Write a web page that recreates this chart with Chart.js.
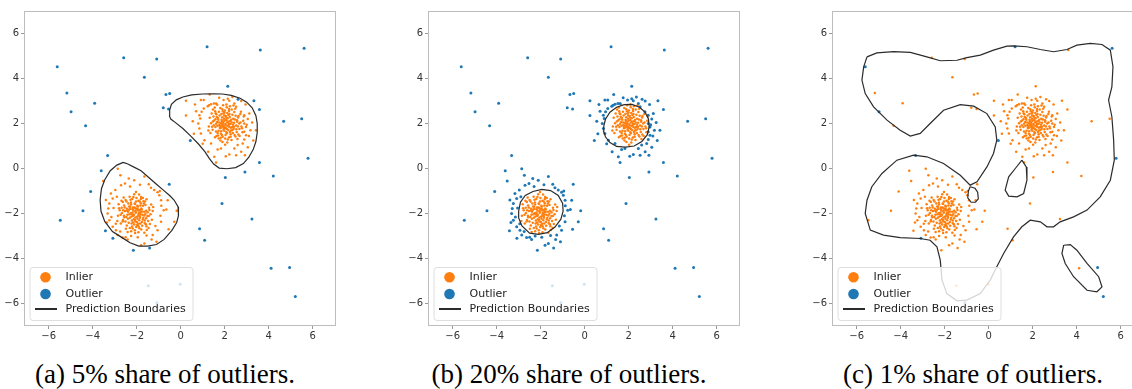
<!DOCTYPE html>
<html lang="en">
<head>
<meta charset="UTF-8">
<title>Prediction boundaries and outliers</title>
<style>
  html, body { margin: 0; padding: 0; background: #fff; overflow: hidden; }
  body { width: 1132px; height: 389px; position: relative; }
  .panel { position: absolute; top: 0; width: 404px; height: 345px; }
  .caption {
    position: absolute; top: 361px; width: 404px; text-align: center; white-space: nowrap;
    font-family: "Liberation Serif", serif; font-size: 27px; line-height: 27px; color: #000;
  }
</style>
</head>
<body>

<div class="panel" style="left:0px"><canvas id="chartA" width="404" height="345"></canvas></div>
<div class="panel" style="left:404px"><canvas id="chartB" width="404" height="345"></canvas></div>
<div class="panel" style="left:808px"><canvas id="chartC" width="404" height="345"></canvas></div>

<div class="caption" style="left:-37px">(a) 5% share of outliers.</div>
<div class="caption" style="left:367px">(b) 20% share of outliers.</div>
<div class="caption" style="left:771px">(c) 1% share of outliers.</div>

<script src="https://cdn.jsdelivr.net/npm/chart.js"></script>
<script>
// axis limits and tick positions (same for every panel)
const xRange = [-7.12, 7.06];
const yRange = [-7, 7];
const xTicks = [-6, -4, -2, 0, 2, 4, 6];
const yTicks = [-6, -4, -2, 0, 2, 4, 6];

// dense part of the cluster around (2, 2)
const upperCore = [
  [2.03,1.98],[1.87,2.11],[2.21,1.84],[1.95,1.72],[2.14,2.23],[1.76,1.93],[2.32,2.05],[2.08,1.61],[1.69,2.24],[2.41,1.77],
  [1.98,2.36],[2.27,1.52],[1.58,1.85],[2.12,2.47],[1.83,1.55],[2.46,2.18],[1.62,2.41],[2.35,2.39],[1.91,1.41],[2.55,1.62],
  [1.72,1.68],[2.18,1.93],[1.99,2.12],[2.06,1.79],[1.84,2.02],[2.25,2.11],[1.93,1.88],[2.11,2.04],[1.79,1.79],[2.29,1.69],
  [1.66,2.07],[2.38,1.94],[2.01,2.58],[1.74,2.52],[2.52,1.91],[1.52,2.13],[2.19,1.38],[1.89,2.63],[2.61,2.27],[1.45,1.72],
  [2.44,2.51],[1.57,2.55],[2.67,1.76],[1.63,1.45],[2.31,1.27],[1.81,1.25],[2.72,2.04],[1.38,2.01],[2.09,2.72],[2.49,1.42],
  [1.97,2.21],[2.16,1.71],[1.86,1.82],[2.23,2.29],[1.71,2.17],[2.37,1.58],[2.04,1.49],[1.95,2.44],[2.57,2.08],[1.61,1.99],
  [2.13,1.89],[1.92,1.99],[2.07,2.16],[1.82,1.91],[2.26,1.98],[2.00,1.83],[1.89,2.28],[2.34,1.85],[1.77,2.36],[2.20,2.56],
  [1.68,1.58],[2.43,2.03],[2.02,1.33],[1.49,2.31],[2.62,1.51],[1.35,1.58],[2.76,1.87],[1.93,2.81],[2.48,2.66],[1.55,2.71],
  [2.71,2.42],[1.41,2.45],[2.84,2.12],[2.24,2.77],[1.73,1.33],[2.58,1.31],[1.28,1.87],[2.12,1.16],[1.66,2.83],[2.81,1.61],
  [2.05,2.33],[1.84,1.66],[2.28,1.81],[1.94,2.07],[2.17,2.38],[1.75,2.04],[2.39,2.21],[1.87,1.49],[2.10,1.57],[1.64,2.29],
  [2.53,1.75],[1.98,1.68],[2.32,2.62],[1.51,1.92],[2.66,2.00],[1.80,2.69],[2.45,1.49],[1.70,1.47],[2.22,2.42],[1.58,2.19],
  [2.35,1.71],[1.99,2.49],[2.14,1.29],[1.43,1.86],[2.63,2.33],[1.85,2.42],[2.27,1.41],[1.61,1.64],[2.50,2.34],[2.08,2.85],
  [1.32,2.26],[2.79,1.79],[1.90,1.18],[2.40,2.80],[1.47,2.62],[2.68,1.45],[1.56,1.39],[2.87,2.31],[2.02,1.06],[1.26,1.69],
  [2.15,2.09],[1.90,1.94],[2.04,1.92],[1.97,1.80],[2.20,2.00],[1.86,2.17],[2.11,1.75],[2.30,2.17],[1.78,1.84],[2.06,2.27],
  [2.42,1.86],[1.67,1.90],[2.24,1.62],[1.92,2.55],[2.56,2.15],[1.59,2.46],[2.19,2.65],[1.82,1.37],[2.60,1.87],[1.46,2.09]
];

// sparser points around the (2, 2) cluster
const upperRing = [
  [0.24,3.01],[0.24,2.36],[0.92,3.04],[1.32,3.29],[0.85,2.37],[0.95,2.52],[1.05,2.67],[1.23,2.77],[1.38,2.86],[1.61,2.89],
  [2.14,3.10],[2.21,3.01],[2.44,2.89],[2.52,2.74],[2.74,2.52],[2.89,2.37],[3.12,2.44],[2.89,2.00],[2.97,1.85],[2.89,1.63],
  [2.97,1.48],[2.89,1.29],[2.82,1.11],[2.59,1.04],[2.44,0.89],[2.21,0.62],[2.52,0.59],[2.92,0.59],[3.42,1.70],[3.17,1.70],
  [1.83,0.89],[1.68,0.84],[1.53,0.52],[1.61,0.27],[1.38,1.11],[1.08,1.26],[0.92,1.56],[0.85,1.78],[0.80,2.00],[0.89,2.22],
  [1.29,2.81],[1.51,2.89],[3.05,2.20],[3.00,1.95],[0.70,2.55],[1.05,3.05],[1.75,3.15],[2.35,3.18],[2.95,2.85],[3.25,2.05],
  [3.30,1.25],[3.05,0.95],[2.75,0.75],[2.05,0.55],[1.25,0.75],[1.00,1.10],[0.60,1.55],[0.55,2.10],[3.10,1.45],[2.75,3.00],
  [1.95,3.05],[0.65,2.85]
];

// dense part of the cluster around (-2, -2)
const lowerCore = [
  [-2.04,-1.97],[-1.86,-2.12],[-2.18,-1.81],[-1.95,-1.69],[-2.13,-2.26],[-1.77,-1.92],[-2.33,-2.03],[-2.07,-1.58],[-1.72,-2.27],[-2.44,-1.79],
  [-1.99,-2.38],[-2.26,-1.51],[-1.57,-1.88],[-2.11,-2.49],[-1.81,-1.54],[-2.47,-2.16],[-1.63,-2.43],[-2.36,-2.41],[-1.92,-1.43],[-2.57,-1.64],
  [-1.71,-1.66],[-2.19,-1.95],[-1.98,-2.14],[-2.05,-1.77],[-1.83,-2.03],[-2.24,-2.13],[-1.94,-1.86],[-2.12,-2.06],[-1.79,-1.78],[-2.30,-1.70],
  [-1.65,-2.09],[-2.39,-1.92],[-2.02,-2.60],[-1.75,-2.54],[-2.53,-1.89],[-1.51,-2.11],[-2.20,-1.36],[-1.88,-2.65],[-2.62,-2.29],[-1.44,-1.74],
  [-2.45,-2.53],[-1.56,-2.57],[-2.68,-1.74],[-1.62,-1.47],[-2.32,-1.25],[-1.80,-1.27],[-2.73,-2.06],[-1.37,-2.03],[-2.08,-2.74],[-2.50,-1.40],
  [-1.96,-2.23],[-2.17,-1.73],[-1.85,-1.84],[-2.22,-2.31],[-1.70,-2.19],[-2.38,-1.56],[-2.03,-1.47],[-1.94,-2.46],[-2.58,-2.10],[-1.60,-2.01],
  [-2.14,-1.87],[-1.91,-2.01],[-2.06,-2.18],[-1.81,-1.93],[-2.27,-1.99],[-2.00,-1.81],[-1.88,-2.30],[-2.35,-1.83],[-1.76,-2.38],[-2.21,-2.58],
  [-1.67,-1.56],[-2.42,-2.05],[-2.01,-1.31],[-1.48,-2.33],[-2.63,-1.49],[-1.34,-1.60],[-2.77,-1.85],[-1.92,-2.83],[-2.49,-2.68],[-1.54,-2.73],
  [-2.72,-2.44],[-1.40,-2.47],[-2.85,-2.10],[-2.25,-2.79],[-1.72,-1.31],[-2.59,-1.29],[-1.27,-1.89],[-2.11,-1.14],[-1.65,-2.85],[-2.82,-1.59],
  [-2.06,-2.35],[-1.83,-1.64],[-2.29,-1.79],[-1.93,-2.09],[-2.16,-2.40],[-1.74,-2.06],[-2.40,-2.23],[-1.86,-1.47],[-2.09,-1.55],[-1.63,-2.31],
  [-2.54,-1.73],[-1.97,-1.66],[-2.31,-2.64],[-1.50,-1.94],[-2.67,-1.98],[-1.79,-2.71],[-2.46,-1.47],[-1.69,-1.45],[-2.23,-2.44],[-1.57,-2.21],
  [-2.34,-1.69],[-1.98,-2.51],[-2.15,-1.27],[-1.42,-1.84],[-2.64,-2.35],[-1.84,-2.44],[-2.28,-1.39],[-1.60,-1.62],[-2.51,-2.36],[-2.07,-2.87],
  [-1.31,-2.28],[-2.80,-1.77],[-1.89,-1.16],[-2.41,-2.82],[-1.46,-2.64],[-2.69,-1.43],[-1.55,-1.37],[-2.88,-2.33],[-2.03,-1.04],[-1.25,-1.71],
  [-2.16,-2.11],[-1.89,-1.96],[-2.05,-1.90],[-1.96,-1.78],[-2.21,-2.02],[-1.85,-2.19],[-2.10,-1.73],[-2.31,-2.19],[-1.77,-1.82],[-2.07,-2.29],
  [-2.43,-1.88],[-1.66,-1.92],[-2.25,-1.60],[-1.91,-2.57],[-2.57,-2.17],[-1.58,-2.48],[-2.18,-2.67],[-1.81,-1.35],[-2.61,-1.85],[-1.45,-2.11]
];

// sparser points around the (-2, -2) cluster
const lowerRing = [
  [-2.86,-0.01],[-2.74,-0.30],[-2.36,-0.44],[-3.52,-0.56],[-1.65,-0.35],[-0.95,-1.00],[-2.97,-0.96],[-3.17,-1.11],[-3.09,-1.33],[-3.24,-1.56],
  [-3.29,-1.78],[-3.32,-2.00],[-3.24,-2.30],[-3.09,-2.59],[-2.94,-2.74],[-2.86,-2.96],[-2.64,-3.07],[-2.41,-3.16],[-1.80,-3.41],[-1.65,-3.33],
  [-1.32,-3.16],[-1.27,-2.96],[-1.05,-2.74],[-0.89,-2.37],[-0.77,-1.85],[-0.65,-1.82],[-0.18,-1.88],[-0.29,-2.37],[-0.59,-1.41],[-0.89,-1.41],
  [-0.97,-1.19],[-1.20,-0.96],[-1.35,-0.86],[-2.71,-0.74],[-2.53,-0.67],[-2.11,-0.52],[-3.05,-1.75],[-3.15,-2.15],[-2.95,-2.45],[-2.75,-2.80],
  [-2.25,-3.00],[-1.95,-3.05],[-1.55,-2.98],[-1.15,-2.55],[-0.92,-2.10],[-0.88,-1.65],[-1.05,-1.05],[-1.45,-0.70],[-1.85,-0.72],[-2.30,-0.80],
  [-2.90,-1.25],[-3.40,-1.40],[-3.35,-2.40],[-2.50,-3.05],[-1.10,-3.25],[-0.55,-2.70]
];

// scattered points that fall inside the 1% boundary
const spreadInside = [
  [-5.17,3.36],[-3.91,2.90],[-4.32,1.90],[-2.59,4.92],[-1.65,4.06],[-1.09,4.87],[3.62,5.27],[-0.67,3.29],[-0.50,3.33],[-0.79,2.70],
  [-0.55,2.65],[2.14,3.66],[2.61,3.08],[3.33,3.01],[3.58,2.62],[4.68,2.10],[5.50,2.21],[3.58,0.27],[2.92,-0.16],[2.03,-0.40],
  [4.21,-0.33],[-3.61,-0.10],[-4.09,-1.02],[-4.44,-1.88],[-5.47,-2.30],[-0.52,-0.70],[1.88,-1.56],[3.24,-2.24],[0.86,-2.68],[1.09,-3.19],
  [-3.42,-2.77],[-2.15,-3.63],[-1.41,-3.53],[4.11,-4.43],[-1.47,-5.21],[-0.02,-5.14]
];

// scattered points that stay outside even the 1% boundary
const spreadEdge = [
  [-5.61,4.52],[-4.98,2.52],[1.20,5.41],[5.61,5.35],[5.79,0.46],[0.44,1.24],[-3.32,0.58],[-3.08,-3.10],[4.95,-4.40],[5.21,-5.69],
  [-1.08,-5.97]
];

// prediction boundaries, 5% share
const boundaryA1 = [
  [-0.52,2.35],[-0.50,2.60],[-0.42,2.85],[-0.20,3.05],[0.10,3.18],[0.50,3.27],[1.00,3.31],[1.50,3.32],[1.90,3.31],[2.30,3.25],
  [2.70,3.12],[3.00,2.95],[3.25,2.70],[3.42,2.35],[3.48,2.00],[3.48,1.60],[3.42,1.20],[3.30,0.85],[3.10,0.50],[2.85,0.22],
  [2.50,0.04],[2.10,-0.01],[1.75,0.02],[1.50,0.20],[1.30,0.45],[1.10,0.75],[0.80,1.10],[0.45,1.45],[0.10,1.78],[-0.25,2.05],
  [-0.45,2.20],[-0.52,2.35]
];
const boundaryA2 = [
  [-2.61,0.27],[-2.40,0.20],[-2.10,0.05],[-1.80,-0.10],[-1.45,-0.40],[-1.10,-0.70],[-0.80,-0.95],[-0.50,-1.20],[-0.30,-1.40],[-0.12,-1.70],
  [-0.10,-2.10],[-0.18,-2.40],[-0.40,-2.75],[-0.75,-3.15],[-1.10,-3.38],[-1.50,-3.45],[-1.90,-3.45],[-2.30,-3.30],[-2.70,-3.05],[-3.10,-2.80],
  [-3.45,-2.35],[-3.62,-1.90],[-3.66,-1.40],[-3.60,-0.90],[-3.45,-0.50],[-3.20,-0.10],[-2.90,0.15],[-2.61,0.27]
];

// prediction boundaries, 20% share
const boundaryB1 = [
  [0.87,1.90],[0.95,2.20],[1.15,2.50],[1.45,2.72],[1.80,2.84],[2.15,2.85],[2.50,2.72],[2.75,2.50],[2.90,2.20],[2.93,1.85],
  [2.85,1.50],[2.60,1.20],[2.25,1.00],[1.85,0.95],[1.45,0.98],[1.15,1.15],[0.95,1.40],[0.86,1.65],[0.87,1.90]
];
const boundaryB2 = [
  [-3.00,-1.90],[-2.92,-1.50],[-2.70,-1.20],[-2.35,-1.02],[-1.95,-0.93],[-1.55,-0.98],[-1.20,-1.20],[-1.00,-1.55],[-0.98,-1.90],[-1.08,-2.25],
  [-1.35,-2.60],[-1.70,-2.85],[-2.10,-2.93],[-2.50,-2.87],[-2.85,-2.55],[-3.00,-2.20],[-3.00,-1.90]
];

// prediction boundaries, 1% share
const boundaryC1 = [
  [-5.53,4.96],[-5.08,5.14],[-4.32,5.19],[-3.56,5.16],[-2.81,4.96],[-2.20,4.79],[-1.44,4.81],[-0.99,4.93],[-0.38,5.04],[0.22,5.26],
  [0.83,5.44],[1.13,5.45],[1.74,5.41],[2.35,5.29],[2.95,5.19],[3.56,5.29],[4.01,5.48],[4.62,5.56],[5.15,5.51],[5.53,5.26],
  [5.65,4.52],[5.60,3.63],[5.45,3.04],[5.60,2.30],[5.68,1.26],[5.71,0.37],[5.53,-0.52],[5.07,-1.26],[4.47,-1.85],[3.86,-2.15],
  [3.25,-2.37],[2.95,-2.59],[2.65,-2.59],[2.35,-2.37],[1.89,-2.30],[1.51,-2.59],[1.13,-3.04],[0.68,-3.78],[0.37,-4.37],[0.07,-4.96],
  [-0.38,-5.56],[-0.99,-5.85],[-1.44,-5.88],[-1.90,-5.56],[-2.12,-4.96],[-2.20,-4.07],[-2.35,-3.48],[-2.66,-3.19],[-3.11,-3.11],[-4.02,-3.07],
  [-4.78,-2.96],[-5.38,-2.74],[-5.61,-2.00],[-5.53,-1.41],[-5.31,-0.81],[-4.85,-0.22],[-4.17,0.37],[-3.41,0.59],[-2.81,0.52],[-2.05,0.22],
  [-1.29,-0.30],[-0.84,-0.74],[-0.53,-0.59],[-0.08,0.07],[0.22,0.67],[0.37,1.26],[0.30,1.85],[-0.08,2.44],[-0.68,2.77],[-1.29,2.84],
  [-2.05,2.59],[-2.66,2.00],[-3.11,1.56],[-3.56,1.44],[-4.02,1.70],[-4.62,2.15],[-5.23,2.74],[-5.61,3.33],[-5.76,3.93],[-5.68,4.52],
  [-5.53,4.96]
];
const boundaryC2 = [
  [-0.84,-0.81],[-0.62,-0.88],[-0.50,-1.05],[-0.47,-1.35],[-0.60,-1.50],[-0.80,-1.50],[-0.95,-1.30],[-0.92,-1.00],[-0.84,-0.81]
];
const boundaryC3 = [
  [1.51,0.37],[1.71,0.07],[1.74,-0.52],[1.59,-1.11],[1.29,-1.26],[0.91,-1.23],[0.75,-0.96],[0.91,-0.37],[1.21,0.00],[1.51,0.37]
];
const boundaryC4 = [
  [3.41,-3.41],[3.71,-3.38],[4.01,-3.63],[4.47,-4.22],[5.00,-4.81],[5.15,-5.26],[4.92,-5.48],[4.47,-5.41],[3.86,-4.81],[3.48,-4.22],
  [3.33,-3.78],[3.41,-3.41]
];

const inlierColor = '#ff7f0e';
const outlierColor = '#1f77b4';
const lineColor = '#2b2b2b';

function fmtTick(v) {
  return v < 0 ? '\u2212' + Math.abs(v) : String(v);
}

// light frame around the plotting area
const frame = {
  id: 'frame',
  afterDraw(chart) {
    const { ctx, chartArea: a } = chart;
    ctx.save();
    ctx.strokeStyle = '#bdbdbd';
    ctx.lineWidth = 1;
    ctx.strokeRect(a.left + 0.5, a.top + 0.5, a.right - a.left - 1, a.bottom - a.top - 1);
    ctx.restore();
  }
};

// matplotlib-like legend in the lower left corner
const legendBox = {
  id: 'legendBox',
  afterDatasetsDraw(chart) {
    const { ctx, chartArea: a } = chart;
    const x = a.left + 6, y = a.top + 256.5, w = 163, h = 53;
    ctx.save();
    ctx.beginPath();
    ctx.roundRect(x, y, w, h, 3);
    ctx.fillStyle = 'rgba(255,255,255,0.8)';
    ctx.fill();
    ctx.strokeStyle = '#dedede';
    ctx.lineWidth = 1;
    ctx.stroke();

    const mx = a.left + 21.5;
    ctx.fillStyle = inlierColor;
    ctx.beginPath(); ctx.arc(mx, a.top + 266.3, 5.3, 0, Math.PI * 2); ctx.fill();
    ctx.fillStyle = outlierColor;
    ctx.beginPath(); ctx.arc(mx, a.top + 283, 5.3, 0, Math.PI * 2); ctx.fill();
    ctx.strokeStyle = lineColor;
    ctx.lineWidth = 2;
    ctx.beginPath(); ctx.moveTo(a.left + 11, a.top + 298); ctx.lineTo(a.left + 33, a.top + 298); ctx.stroke();

    ctx.fillStyle = '#222';
    ctx.font = '11px "DejaVu Sans"';
    ctx.textBaseline = 'middle';
    ctx.fillText('Inlier', a.left + 41.5, a.top + 266.5);
    ctx.fillText('Outlier', a.left + 41.5, a.top + 283.2);
    ctx.fillText('Prediction Boundaries', a.left + 41.5, a.top + 298.2);
    ctx.restore();
  }
};

function makeChart(id, inliers, outliers, boundaries) {
  const lines = boundaries.map(b => ({
    data: b,
    showLine: true,
    borderColor: lineColor,
    borderWidth: 1.2,
    pointRadius: 0,
    fill: false,
    tension: 0
  }));
  const tickFont = { family: 'DejaVu Sans', size: 10 };
  return new Chart(document.getElementById(id), {
    type: 'scatter',
    data: {
      datasets: [
        ...lines,
        { data: outliers, backgroundColor: outlierColor, borderWidth: 0, pointRadius: 1.5 },
        { data: inliers, backgroundColor: inlierColor, borderWidth: 0, pointRadius: 1.25 }
      ]
    },
    options: {
      responsive: false,
      animation: false,
      layout: { padding: { top: 11, right: 68, bottom: 0, left: 0 } },
      plugins: { legend: { display: false }, tooltip: { enabled: false } },
      scales: {
        x: {
          type: 'linear', min: xRange[0], max: xRange[1],
          afterBuildTicks: s => { s.ticks = xTicks.map(v => ({ value: v })); },
          afterFit: s => { s.height = 19; },
          grid: { drawOnChartArea: false, tickLength: 3, tickColor: '#999' },
          border: { display: false },
          ticks: { font: tickFont, color: '#333', padding: 1, maxRotation: 0, callback: fmtTick }
        },
        y: {
          type: 'linear', min: yRange[0], max: yRange[1],
          afterBuildTicks: s => { s.ticks = yTicks.map(v => ({ value: v })); },
          afterFit: s => { s.width = 24; },
          grid: { drawOnChartArea: false, tickLength: 3, tickColor: '#999' },
          border: { display: false },
          ticks: { font: tickFont, color: '#333', padding: 2, callback: fmtTick }
        }
      }
    },
    plugins: [frame, legendBox]
  });
}

makeChart('chartA',
  [...upperCore, ...upperRing, ...lowerCore, ...lowerRing],
  [...spreadInside, ...spreadEdge],
  [boundaryA1, boundaryA2]);

makeChart('chartB',
  [...upperCore, ...lowerCore],
  [...upperRing, ...lowerRing, ...spreadInside, ...spreadEdge],
  [boundaryB1, boundaryB2]);

makeChart('chartC',
  [...upperCore, ...upperRing, ...lowerCore, ...lowerRing, ...spreadInside],
  spreadEdge,
  [boundaryC1, boundaryC2, boundaryC3, boundaryC4]);
</script>
</body>
</html>
